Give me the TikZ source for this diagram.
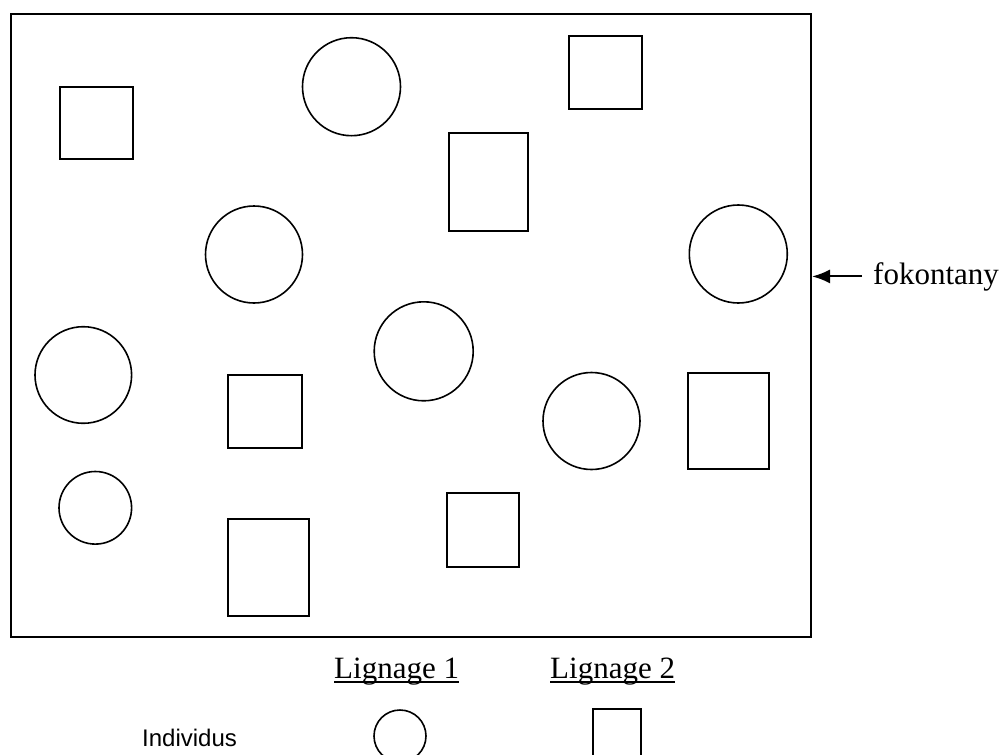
\documentclass[tikz,border=0pt]{standalone}
\usepackage{fontspec}
\setmainfont{Liberation Serif}
\setsansfont{Liberation Sans}
\usetikzlibrary{arrows.meta}

\newcommand{\rond}[3]{\draw[trait] (#1,#2) circle (#3pt);}
\newcommand{\boite}[4]{\draw[trait] (#1,#2) rectangle (#3,#4);}

\begin{document}
\begin{tikzpicture}[x=1pt,y=-1pt,
    trait/.style={line width=1.6pt},
    texte/.style={inner sep=0pt, font=\fontsize{31}{36}\selectfont},
    fleche/.style={line width=2pt, -{Latex[length=18pt,width=14pt]}}]
  \clip (0,0) rectangle (1005,755);
  % le fokontany
  \node[draw, line width=2pt, minimum width=800pt, minimum height=623pt, inner sep=0pt] (fokontany) at (411,325.5) {};
  % lignage 1
  \rond{351.5}{86.7}{49}
  \rond{254}{254.5}{48.5}
  \rond{423.7}{351.3}{49.5}
  \rond{738.3}{254}{49}
  \rond{83.3}{375}{48.3}
  \rond{95.3}{507.8}{36.3}
  \rond{591.5}{421}{48.5}
  % lignage 2
  \boite{60}{87}{133}{159}
  \boite{569}{36}{642}{109}
  \boite{449}{133}{528}{231}
  \boite{688}{373}{769}{469}
  \boite{228}{375}{302}{448}
  \boite{228}{519}{309}{616}
  \boite{447}{493}{519}{567}
  % etiquette
  \node[texte, anchor=base west] (fok) at (873,284) {fokontany};
  \draw[fleche, shorten <=11pt] (fok.west) -- (fok.west -| fokontany.east);
  % legende
  \node[texte, anchor=base west] (lig1) at (334,678) {Lignage 1};
  \node[texte, anchor=base west] (lig2) at (550,678) {Lignage 2};
  \draw[line width=1.2pt] ([yshift=-4pt]lig1.base west) -- ([yshift=-4pt]lig1.base east);
  \draw[line width=1.2pt] ([yshift=-4pt]lig2.base west) -- ([yshift=-4pt]lig2.base east);
  \node[inner sep=0pt, anchor=base west, font=\sffamily\fontsize{24}{28}\selectfont] (ind) at (142,746) {Individus};
  \rond{400}{736}{26}
  \boite{593}{709}{641}{765}
\end{tikzpicture}
\end{document}
